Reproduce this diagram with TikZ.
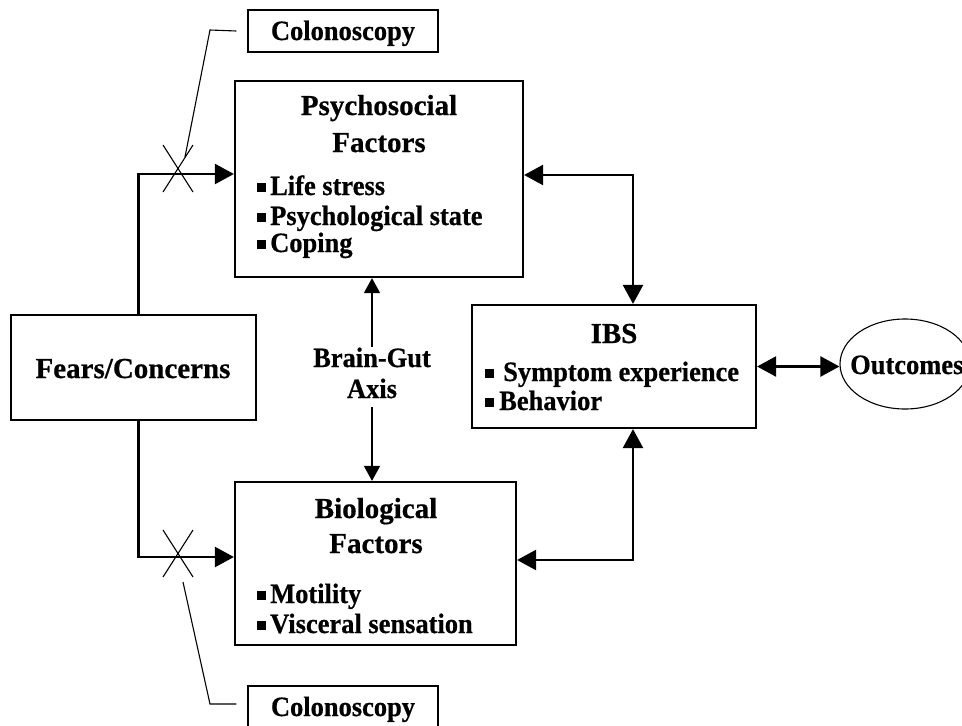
\documentclass[tikz,border=0pt]{standalone}
\usepackage{fontspec}
\setmainfont{Liberation Serif}[BoldFeatures={FakeBold=0.6}]
\newfontfamily\itemfam{Liberation Serif}[FakeStretch=0.945, BoldFeatures={FakeBold=0.6}]
\usetikzlibrary{arrows.meta,shapes.geometric}
\newcommand\hdfont{\fontsize{29}{31}\selectfont\bfseries}
\newcommand\txfont{\itemfam\fontsize{28}{30}\selectfont\bfseries}
\newcommand\sqb{\rule[3.5pt]{9pt}{9pt}}
\tikzset{
  box/.style={draw, line width=2.2pt, rectangle, inner sep=0pt},
  cbox/.style={draw, line width=1.3pt, rectangle, inner sep=0pt, font=\txfont},
  hd/.style={inner sep=0pt, anchor=base, font=\hdfont},
  item/.style={inner sep=0pt, anchor=base west, font=\txfont},
  arr/.style={line width=2.4pt, -{Triangle[length=19pt,width=20pt]}},
  arrb/.style={line width=2.4pt, {Triangle[length=19pt,width=20pt]}-{Triangle[length=19pt,width=20pt]}},
  sarr/.style={line width=1.6pt, -{Triangle[length=15pt,width=16pt]}},
  thin/.style={line width=1.1pt},
}
\begin{document}
\begin{tikzpicture}[x=1pt,y=-1pt]
\useasboundingbox (0,0) rectangle (962,726);
% boxes
\node[box, minimum width=288pt, minimum height=196pt] (psy) at (379,179) {};
\node[box, minimum width=281pt, minimum height=163pt] (bio) at (375.5,563.5) {};
\node[box, minimum width=245pt, minimum height=105pt] (fears) at (133.5,367.5) {};
\node[hd] (fearst) at (133,378) {Fears/Concerns};
\node[box, minimum width=284pt, minimum height=123pt] (ibs) at (614,366.5) {};
\node[draw, ellipse, line width=1.1pt, minimum width=130pt, minimum height=90pt] (out) at (905,364) {};
\node[item] (outt) at (850,374) {Outcomes};
\node[cbox, minimum width=190pt, minimum height=42pt] (col1) at (343,31) {};
\node[item, anchor=base] (col1t) at (343,40) {Colonoscopy};
\node[cbox, minimum width=190pt, minimum height=42pt] (col2) at (343,707) {};
\node[item, anchor=base] (col2t) at (343,716) {Colonoscopy};
% psychosocial texts
\node[hd] (psyh1) at (379,115) {Psychosocial};
\node[hd] (psyh2) at (379,152) {Factors};
\node[item] (psyi1) at (257,195) {\sqb\hspace{4pt}Life stress};
\node[item] (psyi2) at (257,225) {\sqb\hspace{4pt}Psychological state};
\node[item] (psyi3) at (257,252) {\sqb\hspace{4pt}Coping};
% biological texts
\node[hd] (bioh1) at (376,518) {Biological};
\node[hd] (bioh2) at (376,553) {Factors};
\node[item] (bioi1) at (257,603) {\sqb\hspace{4pt}Motility};
\node[item] (bioi2) at (257,633) {\sqb\hspace{4pt}Visceral sensation};
% IBS texts
\node[hd] (ibsh) at (614,343) {IBS};
\node[item] (ibsi1) at (485,381) {\sqb\hspace{9pt}Symptom experience};
\node[item] (ibsi2) at (485,410) {\sqb\hspace{5pt}Behavior};
% brain-gut axis
\node[item, anchor=base] (bg1) at (372,367) {Brain-Gut};
\node[item, anchor=base] (bg2) at (372,398) {Axis};
\coordinate (bgt) at (372,347);
\coordinate (bgb) at (372,407);
\draw[sarr] (bgt) -- (bgt |- psy.south);
\draw[sarr] (bgb) -- (bgb |- bio.north);
% fears connectors
\draw[arr] ([xshift=5pt]fears.north) |- ([yshift=5pt]psy.west);
\draw[arr] ([xshift=5pt]fears.south) |- ([yshift=6.5pt]bio.west);
% IBS connectors
\draw[arrb] ([yshift=4pt]psy.east) -| ([xshift=19pt]ibs.north);
\draw[arrb] ([yshift=3.5pt]bio.east) -| ([xshift=19pt]ibs.south);
\draw[arrb] (ibs.east) -- (ibs.east -| out.west);
% X marks
\draw[thin] (163,145) -- (193,192) (193,145) -- (163,192);
\draw[thin] (163,530) -- (193,577) (193,530) -- (163,577);
% leader lines
\coordinate (l1a) at (185,157);
\coordinate (l1b) at (210,30);
\coordinate (l2a) at (183,582);
\coordinate (l2b) at (210,704);
\draw[thin] (l1a) -- (l1b) -- ([xshift=-11pt]col1.west);
\draw[thin] (l2a) -- (l2b) -- ([xshift=-11pt,yshift=3pt]col2.west);
\end{tikzpicture}
\end{document}
